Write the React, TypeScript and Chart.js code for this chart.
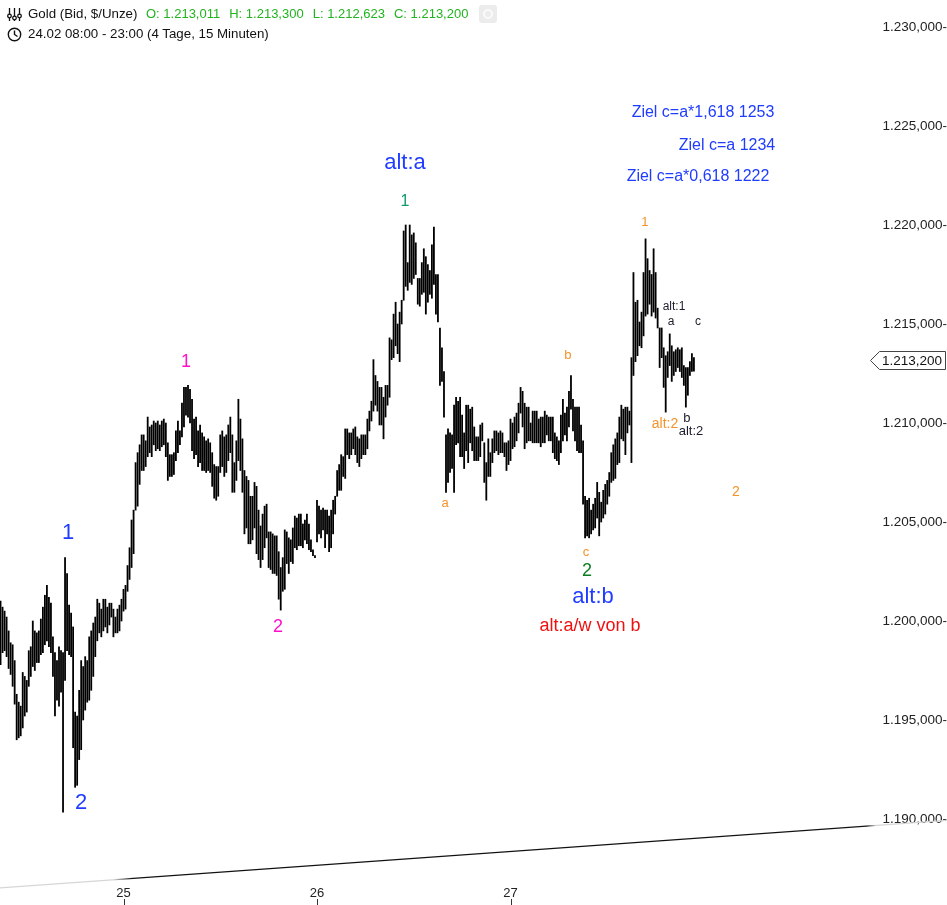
import React, { useEffect, useRef } from "react";
import { Chart, registerables } from "chart.js";
Chart.register(...registerables);

// ---- DATA ----
// 15-minute bars, time in hours since 24.02 00:00, first bar 24.02 08:00
const firstBarHour = 8;
const barStepHours = 0.25;

const barHighs = [
  1201.1, 1201.3, 1201.2, 1201.0, 1200.7, 1200.5, 1200.2, 1199.5, 1198.9, 1198.8, 1198.0, 1196.3,
  1195.9, 1195.7, 1197.4, 1197.2, 1197.0, 1198.5, 1198.7, 1200.0, 1199.5, 1199.4, 1199.5, 1200.1,
  1200.7, 1201.3, 1201.8, 1201.2, 1200.9, 1199.2, 1198.4, 1198.0, 1198.7, 1198.5, 1198.4, 1203.2,
  1202.4, 1200.8, 1200.4, 1199.7, 1195.4, 1195.2, 1196.5, 1198.0, 1197.7, 1198.2, 1198.0, 1199.2,
  1199.5, 1199.9, 1200.2, 1201.1, 1200.9, 1200.6, 1201.1, 1201.1, 1200.7, 1200.9, 1200.9, 1200.6,
  1200.2, 1200.6, 1200.8, 1201.1, 1201.6, 1201.8, 1202.8, 1203.7, 1205.1, 1205.6, 1208.0, 1208.5,
  1208.9, 1209.4, 1209.4, 1209.1, 1210.3, 1209.8, 1209.9, 1210.1, 1210.0, 1210.1, 1209.9, 1210.1,
  1210.2, 1210.0, 1209.0, 1208.4, 1208.4, 1208.5, 1209.6, 1210.1, 1209.6, 1211.0, 1211.8, 1211.8,
  1211.9, 1211.7, 1211.2, 1210.2, 1210.3, 1209.6, 1209.9, 1209.5, 1209.3, 1209.1, 1209.2, 1209.0,
  1208.5, 1207.9, 1207.8, 1207.8, 1209.4, 1209.6, 1209.3, 1209.4, 1209.9, 1210.3, 1209.4, 1208.0,
  1209.1, 1211.2, 1210.2, 1209.2, 1207.6, 1207.3, 1207.1, 1206.3, 1206.3, 1207.0, 1206.8, 1205.6,
  1204.8, 1205.4, 1205.8, 1205.9, 1204.5, 1204.5, 1204.4, 1204.3, 1204.3, 1203.5, 1202.7, 1203.2,
  1204.6, 1204.5, 1204.2, 1204.1, 1204.7, 1205.3, 1205.2, 1205.4, 1205.4, 1204.9, 1205.1, 1205.4,
  1204.9, 1204.1, 1203.6, 1203.3, 1206.1, 1205.8, 1205.6, 1205.7, 1205.6, 1205.6, 1205.3, 1205.6,
  1206.1, 1206.3, 1207.6, 1207.9, 1208.4, 1208.3, 1209.7, 1209.7, 1209.5, 1209.5, 1209.7, 1209.8,
  1209.3, 1209.2, 1209.4, 1209.4, 1209.4, 1210.2, 1210.6, 1211.1, 1213.2, 1212.4, 1212.1, 1211.8,
  1211.8, 1211.3, 1211.9, 1211.9, 1214.3, 1214.2, 1215.5, 1216.1, 1215.0, 1215.6, 1216.2, 1219.7,
  1220.0, 1218.1, 1220.0, 1219.5, 1219.6, 1219.1, 1217.3, 1217.3, 1218.1, 1218.8, 1218.4, 1218.0,
  1217.7, 1219.0, 1219.9, 1217.5, 1217.5, 1214.8, 1213.8, 1212.6, 1209.4, 1209.7, 1209.5, 1209.4,
  1210.9, 1211.3, 1211.1, 1211.3, 1210.4, 1209.5, 1210.9, 1210.9, 1210.7, 1210.8, 1209.8, 1209.3,
  1209.3, 1209.9, 1210.0, 1209.0, 1208.0, 1209.2, 1208.5, 1209.2, 1209.6, 1209.6, 1209.5, 1209.6,
  1209.5, 1209.0, 1209.0, 1209.1, 1210.2, 1210.0, 1210.3, 1210.5, 1211.0, 1211.8, 1211.6, 1211.0,
  1210.8, 1210.8, 1210.0, 1210.6, 1210.6, 1210.6, 1210.2, 1210.3, 1210.3, 1210.6, 1210.4, 1210.3,
  1210.3, 1210.3, 1209.5, 1209.3, 1209.1, 1210.4, 1211.2, 1210.5, 1210.8, 1211.6, 1212.4, 1211.2,
  1210.8, 1210.8, 1210.8, 1209.9, 1209.1, 1206.3, 1206.1, 1206.2, 1205.6, 1205.9, 1206.2, 1207.0,
  1206.5, 1206.0, 1206.6, 1206.9, 1207.1, 1207.5, 1208.5, 1208.9, 1209.2, 1209.5, 1210.3, 1210.9,
  1210.7, 1210.8, 1210.8, 1210.6, 1213.3, 1217.6, 1216.1, 1216.2, 1215.1, 1215.6, 1217.6, 1219.3,
  1218.3, 1217.7, 1217.5, 1218.8, 1217.6, 1215.8, 1214.8, 1214.8, 1213.8, 1213.4, 1213.6, 1214.5,
  1213.9, 1213.6, 1213.7, 1213.8, 1213.7, 1213.8, 1212.9, 1212.8, 1212.8, 1213.1, 1213.5, 1213.3,
];

const barLows = [
  1198.5, 1198.8, 1198.0, 1197.8, 1198.4, 1198.5, 1198.2, 1197.6, 1197.3, 1196.7, 1195.8, 1194.0,
  1194.1, 1194.2, 1194.6, 1195.2, 1195.4, 1196.7, 1197.2, 1197.7, 1197.5, 1197.9, 1197.9, 1198.3,
  1198.4, 1198.8, 1199.0, 1198.7, 1198.4, 1197.2, 1195.2, 1196.0, 1195.7, 1196.4, 1190.35, 1197.0,
  1198.5, 1198.3, 1198.2, 1193.6, 1191.6, 1191.7, 1193.0, 1193.5, 1195.0, 1195.5, 1195.9, 1196.0,
  1196.5, 1197.2, 1198.2, 1199.0, 1199.4, 1199.2, 1199.5, 1199.7, 1199.4, 1199.8, 1200.2, 1199.2,
  1199.4, 1199.4, 1199.5, 1200.0, 1200.5, 1200.6, 1201.5, 1202.1, 1202.7, 1203.4, 1205.6, 1205.8,
  1206.9, 1207.6, 1207.6, 1207.8, 1208.3, 1208.5, 1208.3, 1208.9, 1208.6, 1208.7, 1208.6, 1208.8,
  1208.9, 1208.3, 1207.1, 1207.3, 1207.3, 1207.4, 1208.1, 1208.5, 1208.9, 1209.3, 1209.8, 1210.4,
  1210.3, 1210.0, 1208.6, 1208.2, 1208.4, 1207.8, 1208.0, 1207.6, 1207.6, 1207.5, 1207.6, 1207.5,
  1206.8, 1206.2, 1206.1, 1206.3, 1207.5, 1207.8, 1207.3, 1207.5, 1208.1, 1208.5, 1206.5, 1206.5,
  1207.1, 1208.1, 1207.6, 1206.5, 1204.4, 1204.7, 1203.9, 1203.9, 1204.1, 1204.7, 1203.4, 1203.1,
  1202.7, 1203.1, 1203.7, 1204.2, 1202.7, 1202.6, 1202.4, 1202.4, 1202.3, 1201.1, 1200.55, 1201.5,
  1201.6, 1202.9, 1202.4, 1203.0, 1202.9, 1203.7, 1203.6, 1203.8, 1203.8, 1203.7, 1204.1, 1203.9,
  1203.6, 1203.5, 1203.3, 1203.2, 1204.0, 1204.4, 1204.2, 1204.6, 1203.7, 1204.4, 1203.5, 1203.7,
  1204.4, 1205.4, 1206.3, 1206.6, 1206.6, 1207.3, 1207.2, 1208.4, 1208.2, 1208.4, 1208.7, 1208.4,
  1208.0, 1207.8, 1208.2, 1208.4, 1208.4, 1208.7, 1209.6, 1210.1, 1210.6, 1210.9, 1210.6, 1209.9,
  1209.9, 1209.2, 1210.3, 1210.9, 1211.3, 1213.2, 1213.3, 1213.9, 1213.5, 1213.1, 1215.0, 1216.2,
  1216.9, 1216.7, 1217.1, 1217.0, 1217.3, 1217.5, 1216.0, 1215.9, 1216.5, 1216.6, 1215.5, 1216.1,
  1216.5, 1216.3, 1217.0, 1215.5, 1215.1, 1211.9, 1212.1, 1210.3, 1206.5, 1207.0, 1207.5, 1207.7,
  1206.5, 1208.9, 1209.0, 1208.3, 1208.3, 1207.7, 1208.6, 1208.0, 1209.0, 1208.6, 1208.1, 1208.1,
  1208.1, 1208.3, 1209.1, 1207.0, 1206.1, 1207.3, 1207.3, 1208.0, 1208.5, 1208.6, 1208.4, 1208.5,
  1208.5, 1208.3, 1207.6, 1207.9, 1208.1, 1208.7, 1208.8, 1209.1, 1209.5, 1210.5, 1209.8, 1208.7,
  1209.0, 1209.1, 1209.1, 1209.0, 1209.0, 1209.0, 1209.0, 1208.8, 1209.0, 1209.0, 1209.4, 1209.1,
  1209.1, 1208.5, 1208.2, 1208.1, 1207.9, 1208.5, 1209.1, 1209.4, 1209.1, 1209.8, 1210.7, 1209.6,
  1209.1, 1208.6, 1208.5, 1208.5, 1205.9, 1204.2, 1204.3, 1204.2, 1204.4, 1204.6, 1204.7, 1205.2,
  1204.3, 1205.0, 1205.2, 1205.4, 1205.9, 1206.3, 1207.0, 1207.1, 1207.2, 1207.9, 1208.0, 1209.2,
  1209.1, 1208.4, 1209.5, 1209.9, 1208.0, 1212.4, 1213.1, 1213.4, 1213.9, 1213.8, 1214.4, 1215.4,
  1215.5, 1216.0, 1215.4, 1215.6, 1215.3, 1214.8, 1212.8, 1213.3, 1211.8, 1210.55, 1212.3, 1212.9,
  1212.1, 1212.4, 1212.6, 1212.8, 1212.6, 1212.3, 1211.9, 1210.8, 1211.4, 1212.4, 1212.6, 1212.62,
];

const yTickValues = [1190, 1195, 1200, 1205, 1210, 1215, 1220, 1225, 1230];
const dayTickHours = [24, 48, 72];
const dayTickLabels = ["25", "26", "27"];
const lastPrice = 1213.2;
const headerQuotes = ["O: 1.213,011", "H: 1.213,300", "L: 1.212,623", "C: 1.213,200"];

// trend line end points (hours, price)
const trendHours = [8.68, 126.2];
const trendPrices = [1186.52, 1189.93];

// wave labels
const annTexts = [
  "1", "2", "1", "2", "alt:a", "1", "a", "b", "c", "2", "alt:b", "alt:a/w von b",
  "1", "alt:1", "a", "c", "alt:2", "b", "alt:2", "2",
  "Ziel c=a*1,618 1253", "Ziel c=a 1234", "Ziel c=a*0,618 1222",
];
const annHours = [
  17.12, 18.73, 31.75, 43.16, 58.91, 58.91, 63.88, 79.13, 81.36, 81.49, 82.23, 81.86,
  88.68, 92.28, 91.91, 95.26, 91.16, 93.89, 94.39, 99.97,
  95.88, 98.85, 95.26,
];
const annPrices = [
  1204.44, 1190.81, 1213.08, 1199.70, 1223.13, 1221.16, 1205.96, 1213.43, 1203.48, 1202.53, 1201.21, 1199.75,
  1220.15, 1215.86, 1215.10, 1215.10, 1209.95, 1210.25, 1209.55, 1206.52,
  1225.66, 1223.99, 1222.47,
];

// ---- STYLES ----
const BLUE = "#1f3cff";
const ORANGE = "#f5922a";
const MAGENTA = "#ff10c8";
const TEAL = "#0f9a6e";
const GREEN = "#0c7d22";
const RED = "#ee1111";
const DARK = "#1b1b2a";
const annStyles: [string, number][] = [
  [BLUE, 22], [BLUE, 22], [MAGENTA, 18], [MAGENTA, 18], [BLUE, 22], [TEAL, 16], [ORANGE, 13], [ORANGE, 13], [ORANGE, 13], [GREEN, 18], [BLUE, 22], [RED, 18],
  [ORANGE, 13], [DARK, 12], [DARK, 12], [DARK, 12], [ORANGE, 14], [DARK, 13], [DARK, 13], [ORANGE, 14],
  [BLUE, 16], [BLUE, 16], [BLUE, 16],
];

const FONT = '"Liberation Sans", Arial, sans-serif';
const PX_PER_HOUR = 8.0625;
const X_MIN = 70 / PX_PER_HOUR;
const X_MAX = 940 / PX_PER_HOUR;
const Y_MAX = 1230 + 27 / 19.8;
const Y_MIN = 1230 - (888 - 27) / 19.8;

function fmtDe(v: number, d = 3): string {
  const s = v.toFixed(d);
  const [i, f] = s.split(".");
  const ii = i.replace(/\B(?=(\d{3})+(?!\d))/g, ".");
  return f ? ii + "," + f : ii;
}

const overlayPlugin = {
  id: "overlay",
  afterDatasetsDraw(chart: any) {
    const { ctx, scales } = chart;
    const xs = scales.x;
    const ys = scales.y;
    ctx.save();
    ctx.textAlign = "center";
    ctx.textBaseline = "middle";
    annTexts.forEach((t, i) => {
      const [color, size] = annStyles[i];
      ctx.fillStyle = color;
      ctx.font = `${size}px ${FONT}`;
      ctx.fillText(t, xs.getPixelForValue(annHours[i]), ys.getPixelForValue(annPrices[i]));
    });
    ctx.restore();
  },
  afterDraw(chart: any) {
    const { ctx, scales } = chart;
    const xs = scales.x;
    const ys = scales.y;
    ctx.save();
    // x tick marks under labels
    ctx.strokeStyle = "#333";
    ctx.lineWidth = 1;
    dayTickHours.forEach((h) => {
      const x = Math.round(xs.getPixelForValue(h)) + 0.5;
      ctx.beginPath();
      ctx.moveTo(x, 899);
      ctx.lineTo(x, 905);
      ctx.stroke();
    });
    // last price marker
    const y = Math.round(ys.getPixelForValue(lastPrice)) + 0.5;
    const left = 870.5;
    const right = 945.5;
    ctx.beginPath();
    ctx.moveTo(left, y);
    ctx.lineTo(left + 9, y - 9);
    ctx.lineTo(right, y - 9);
    ctx.lineTo(right, y + 9);
    ctx.lineTo(left + 9, y + 9);
    ctx.closePath();
    ctx.fillStyle = "#fff";
    ctx.fill();
    ctx.strokeStyle = "#444";
    ctx.stroke();
    ctx.fillStyle = "#111";
    ctx.font = `13.5px ${FONT}`;
    ctx.textAlign = "left";
    ctx.textBaseline = "middle";
    ctx.fillText(fmtDe(lastPrice), 882, y + 0.5);
    ctx.restore();
  },
};

export default function App() {
  const ref = useRef<HTMLCanvasElement | null>(null);

  useEffect(() => {
    document.body.style.margin = "0";
    const canvas = ref.current;
    if (!canvas) return;
    const bars = barHighs.map((h, i) => ({
      x: firstBarHour + i * barStepHours,
      y: [barLows[i], h],
    }));
    const trend = trendHours.map((h, i) => ({ x: h, y: trendPrices[i] }));
    const chart = new Chart(canvas, {
      type: "bar",
      data: {
        datasets: [
          {
            type: "bar",
            data: bars as any,
            backgroundColor: "#000",
            borderWidth: 0,
            barThickness: 1.15,
            grouped: false,
          } as any,
          {
            type: "line",
            data: trend as any,
            borderWidth: 1.3,
            pointRadius: 0,
            clip: false,
            borderColor: (c: any) => {
              const { ctx, chartArea } = c.chart;
              if (!chartArea) return "#111";
              const g = ctx.createLinearGradient(0, 0, 947, 0);
              g.addColorStop(0, "#d6d6d6");
              g.addColorStop(0.12, "#d6d6d6");
              g.addColorStop(0.14, "#111");
              g.addColorStop(0.915, "#111");
              g.addColorStop(0.925, "#d6d6d6");
              g.addColorStop(1, "#d6d6d6");
              return g;
            },
          } as any,
        ],
      },
      options: {
        responsive: false,
        animation: false,
        layout: { padding: 0 },
        plugins: { legend: { display: false }, tooltip: { enabled: false } },
        scales: {
          x: {
            type: "linear",
            min: X_MIN,
            max: X_MAX,
            offset: false,
            grid: { display: false, drawTicks: false },
            border: { display: false },
            afterBuildTicks: (s: any) => {
              s.ticks = dayTickHours.map((v) => ({ value: v }));
            },
            afterFit: (s: any) => {
              s.height = 17;
              s.paddingLeft = 0;
              s.paddingRight = 0;
            },
            ticks: {
              autoSkip: false,
              maxRotation: 0,
              padding: -2,
              color: "#222",
              font: { family: '"Liberation Sans Narrow", "Liberation Sans", Arial', size: 13 },
              callback: (v: any) => {
                const i = dayTickHours.indexOf(Number(v));
                return i >= 0 ? dayTickLabels[i] : "";
              },
            },
          },
          y: {
            position: "right",
            min: Y_MIN,
            max: Y_MAX,
            grid: { display: false, drawTicks: false },
            border: { display: false },
            afterBuildTicks: (s: any) => {
              s.ticks = yTickValues.map((v) => ({ value: v }));
            },
            afterFit: (s: any) => {
              s.width = 77;
              s.paddingTop = 0;
              s.paddingBottom = 0;
            },
            ticks: {
              crossAlign: "far",
              padding: 0,
              color: "#222",
              font: { family: FONT, size: 13.5 },
              callback: (v: any) => fmtDe(Number(v)) + "-",
            },
          },
        },
      } as any,
      plugins: [overlayPlugin],
    });
    return () => chart.destroy();
  }, []);

  const hdr: React.CSSProperties = {
    position: "absolute",
    fontFamily: FONT,
    fontSize: 13.3,
    color: "#111",
    whiteSpace: "pre",
    lineHeight: "16px",
  };

  return (
    <div style={{ position: "relative", width: 947, height: 905, background: "#fff" }}>
      <canvas ref={ref} width={947} height={905} style={{ display: "block" }} />
      <svg style={{ position: "absolute", left: 7, top: 7 }} width="15" height="15" viewBox="0 0 15 15">
        <g stroke="#111" strokeWidth="1.3" fill="none">
          <line x1="2.5" y1="1" x2="2.5" y2="14" />
          <line x1="7.5" y1="1" x2="7.5" y2="14" />
          <line x1="12.5" y1="1" x2="12.5" y2="14" />
          <circle cx="2.5" cy="9" r="1.8" fill="#fff" />
          <circle cx="7.5" cy="11" r="1.8" fill="#fff" />
          <circle cx="12.5" cy="9" r="1.8" fill="#fff" />
        </g>
      </svg>
      <div style={{ ...hdr, left: 28, top: 6 }}>Gold (Bid, $/Unze)</div>
      <div style={{ ...hdr, left: 146, top: 6, fontSize: 13, color: "#22b41e" }}>
        {headerQuotes.map((q, i) => (
          <span key={i} style={{ marginLeft: i === 0 ? 0 : 9 }}>
            {q}
          </span>
        ))}
      </div>
      <div
        style={{
          position: "absolute",
          left: 479,
          top: 5,
          width: 18,
          height: 18,
          borderRadius: 3,
          background: "#ececec",
        }}
      >
        <div
          style={{
            position: "absolute",
            left: 4,
            top: 4,
            width: 6,
            height: 6,
            borderRadius: "50%",
            border: "2px solid #fafafa",
          }}
        />
      </div>
      <svg style={{ position: "absolute", left: 7, top: 27 }} width="15" height="15" viewBox="0 0 15 15">
        <g stroke="#111" strokeWidth="1.4" fill="none">
          <circle cx="7.5" cy="7.5" r="6.2" />
          <polyline points="7.5,3.5 7.5,7.5 10.5,9.5" />
        </g>
      </svg>
      <div style={{ ...hdr, left: 28, top: 26 }}>24.02 08:00 - 23:00 (4 Tage, 15 Minuten)</div>
    </div>
  );
}
